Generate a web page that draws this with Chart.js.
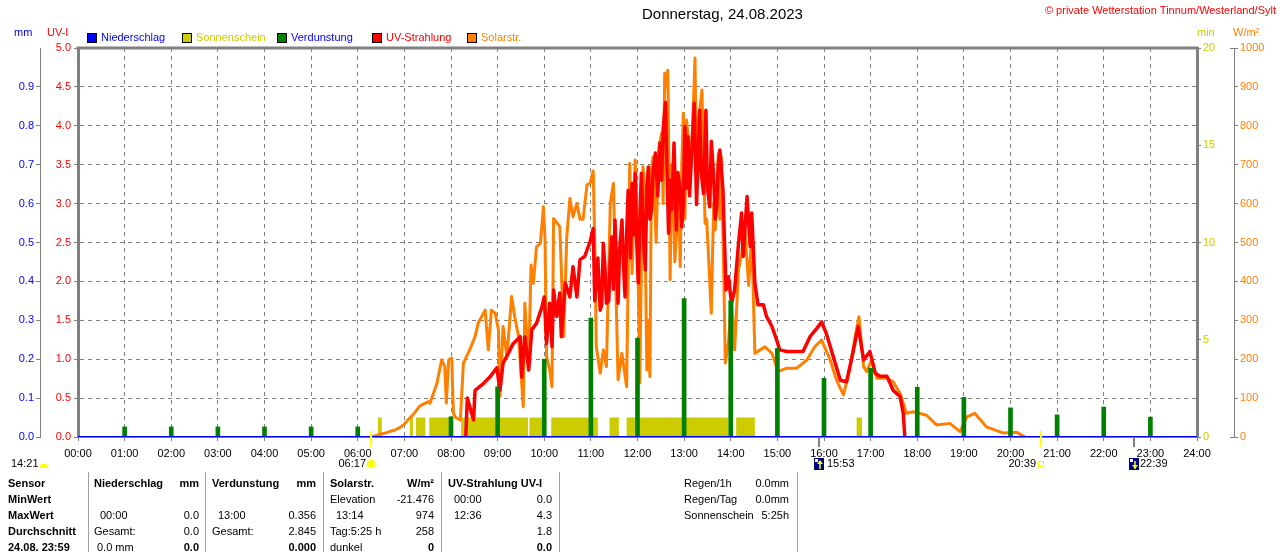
<!DOCTYPE html>
<html>
<head>
<meta charset="utf-8">
<title>Donnerstag, 24.08.2023</title>
<script src="https://cdn.jsdelivr.net/npm/chart.js@4.4.0/dist/chart.umd.min.js"></script>
<style>
  html, body { margin: 0; padding: 0; background: #fff; }
  canvas { display: block; }
</style>
</head>
<body>
<canvas id="wetterChart" width="1280" height="552"></canvas>
<script>
// Tageskurve Wetterstation, Zeitachse in Minuten nach Mitternacht

const hourLabels = ['00:00','01:00','02:00','03:00','04:00','05:00','06:00','07:00','08:00','09:00','10:00','11:00','12:00',
    '13:00','14:00','15:00','16:00','17:00','18:00','19:00','20:00','21:00','22:00','23:00','24:00'];
const mmTickLabels = ['0.0','0.1','0.2','0.3','0.4','0.5','0.6','0.7','0.8','0.9', null];
const uvTickLabels = ['0.0','0.5','1.0','1.5','2.0','2.5','3.0','3.5','4.0','4.5','5.0'];
const minTickLabels = ['0','5','10','15','20'];
const wmTickLabels = ['0','100','200','300','400','500','600','700','800','900','1000'];

// Niederschlag (mm)
const rainTimes = [0, 1440];
const rainValues = [0.0, 0.0];

// Sonnenschein (min), Abschnitte mit Sonne
const sunStart = [386, 427, 435, 452, 493, 581, 609, 684, 706, 847, 1002];
const sunEnd = [391, 431, 447, 478, 579, 597, 669, 696, 837, 871, 1009];
const sunMinutes = [1, 1, 1, 1, 1, 1, 1, 1, 1, 1, 1];

// Verdunstung (mm), stuendlich
const evapTimes = [60, 120, 180, 240, 300, 360, 480, 540, 600, 660, 720, 780, 840, 900, 960, 1020, 1080, 1140, 1200, 1260, 1320, 1380];
const evapValues = [0.026, 0.026, 0.026, 0.026, 0.026, 0.026, 0.052, 0.129, 0.200, 0.306, 0.254, 0.356, 0.350, 0.228,
    0.151, 0.177, 0.128, 0.102, 0.075, 0.057, 0.077, 0.051];

// UV-Strahlung (UV-I)
const uvTimes = [
    499, 501, 509, 511, 522, 530, 539, 543, 547, 554,
    560, 569, 571, 575, 580, 584, 590, 597, 600, 603,
    607, 610, 612, 616, 620, 622, 627, 633, 637, 642,
    646, 652, 659, 663, 665, 667, 669, 672, 674, 676,
    678, 680, 683, 685, 687, 689, 691, 695, 697, 700,
    702, 704, 706, 708, 711, 713, 715, 717, 719, 721,
    723, 725, 728, 730, 732, 734, 736, 738, 740, 743,
    746, 749, 751, 753, 756, 758, 760, 762, 764, 767,
    770, 772, 775, 777, 779, 781, 783, 785, 787, 790,
    793, 796, 798, 800, 802, 805, 808, 810, 813, 815,
    818, 820, 822, 824, 826, 830, 832, 834, 837, 841,
    845, 850, 854, 856, 861, 865, 867, 871, 875, 882,
    886, 893, 899, 903, 912, 933, 942, 951, 957, 963,
    972, 981, 989, 998, 1004, 1011, 1019, 1026, 1032, 1041,
    1049, 1058, 1062, 1064];
const uvValues = [
    0, 0.50, 0.22, 0.60, 0.69, 0.77, 0.89, 0.60, 0.95, 1.08,
    1.20, 1.29, 0.77, 1.29, 0.86, 1.38, 1.46, 1.67, 1.80, 1.20,
    1.72, 1.16, 1.89, 1.55, 1.85, 1.29, 1.98, 1.80, 2.19, 1.80,
    2.28, 2.32, 2.51, 2.68, 1.75, 1.98, 2.30, 1.63, 1.70, 2.49,
    2.20, 1.72, 1.75, 2.30, 2.57, 1.90, 2.79, 1.72, 2.40, 2.79,
    2.20, 1.80, 2.60, 3.17, 2.30, 3.26, 2.60, 3.39, 2.50, 1.98,
    2.80, 3.39, 2.50, 2.15, 3.20, 3.47, 2.80, 2.92, 3.40, 3.65,
    3.10, 3.78, 3.30, 3.95, 4.30, 3.40, 2.62, 3.30, 2.92, 3.78,
    2.66, 3.40, 3.17, 2.70, 3.00, 3.99, 3.20, 3.86, 3.10, 3.69,
    4.29, 2.99, 3.60, 4.20, 3.40, 3.13, 4.20, 3.20, 2.96, 3.80,
    3.35, 2.80, 2.96, 3.50, 3.69, 3.17, 2.50, 1.89, 2.06, 1.72,
    1.89, 2.49, 2.88, 2.32, 3.09, 2.45, 2.88, 1.98, 1.70, 1.70,
    1.55, 1.42, 1.25, 1.12, 1.10, 1.10, 1.29, 1.40, 1.48, 1.33,
    1.03, 0.73, 0.71, 1.12, 1.42, 0.99, 1.10, 0.82, 0.78, 0.78,
    0.60, 0.52, 0.30, 0];

// Solarstrahlung (W/m²)
const solarTimes = [
    378, 382, 389, 395, 401, 408, 414, 420, 425, 431,
    440, 451, 453, 462, 468, 472, 474, 477, 481, 483,
    486, 492, 496, 504, 511, 515, 524, 528, 532, 537,
    541, 543, 547, 552, 558, 562, 567, 573, 575, 580,
    583, 586, 590, 595, 599, 601, 603, 607, 610, 612,
    620, 625, 629, 633, 637, 642, 646, 650, 655, 659,
    663, 665, 667, 672, 676, 680, 685, 689, 692, 695,
    700, 706, 710, 713, 717, 719, 721, 723, 725, 727,
    729, 732, 734, 736, 738, 740, 744, 747, 749, 751,
    753, 755, 757, 759, 762, 764, 766, 768, 770, 773,
    775, 777, 779, 781, 783, 786, 788, 791, 794, 796,
    799, 803, 805, 807, 809, 811, 813, 815, 818, 820,
    824, 826, 828, 831, 833, 837, 841, 845, 850, 854,
    858, 863, 867, 871, 878, 884, 893, 901, 912, 925,
    938, 948, 957, 968, 976, 985, 993, 1000, 1005, 1011,
    1015, 1021, 1028, 1041, 1049, 1058, 1066, 1075, 1092, 1105,
    1122, 1135, 1144, 1154, 1169, 1191, 1208, 1219];
const solarValues = [
    0, 3, 7, 10, 14, 18, 24, 33, 45, 57,
    80, 91, 87, 139, 198, 181, 87, 198, 203, 62,
    50, 44, 190, 224, 258, 293, 326, 224, 326, 318,
    275, 104, 284, 206, 361, 309, 258, 78, 344, 190,
    442, 395, 489, 498, 592, 506, 206, 172, 129, 562,
    541, 258, 515, 613, 566, 601, 560, 560, 648, 652,
    684, 499, 232, 164, 224, 181, 601, 652, 396, 147,
    215, 129, 703, 420, 712, 600, 395, 139, 450, 695,
    650, 172, 300, 155, 690, 720, 500, 738, 760, 781,
    600, 935, 900, 943, 404, 700, 626, 450, 515, 620,
    438, 700, 832, 560, 815, 760, 669, 800, 974, 652,
    820, 892, 700, 549, 560, 481, 400, 318, 600, 532,
    729, 560, 720, 420, 190, 241, 360, 224, 430, 470,
    540, 390, 520, 215, 224, 232, 215, 168, 177, 177,
    198, 232, 249, 198, 147, 108, 172, 258, 309, 181,
    168, 198, 151, 151, 142, 112, 61, 65, 56, 31,
    35, 14, 52, 61, 26, 10, 12, 0];

// Sonne / Mond
const sunriseTime = 377;   // 06:17
const sunsetTime = 1239;   // 20:39
const moonriseTime = 953;  // 15:53
const moonsetTime = 1359;  // 22:39

const FONT = '"Liberation Sans", Arial, sans-serif';
const GRID = '#808080';

function toPoints(xs, ys) {
    return xs.map((x, i) => ({ x: x, y: ys[i] }));
}

const sunshinePoints = [];
sunStart.forEach(function(s, i) {
    sunshinePoints.push({ x: s, y: 0 }, { x: s, y: sunMinutes[i] }, { x: sunEnd[i], y: sunMinutes[i] }, { x: sunEnd[i], y: 0 });
});

function text(ctx, str, x, y, opts) {
    opts = opts || {};
    ctx.font = (opts.bold ? 'bold ' : '') + (opts.size || 11) + 'px ' + FONT;
    ctx.fillStyle = opts.color || '#000';
    ctx.textAlign = opts.align || 'left';
    ctx.textBaseline = 'middle';
    ctx.fillText(str, x, y);
}

function moonIcon(ctx, x, y, up) {
    ctx.fillStyle = '#000080';
    ctx.fillRect(x, y, 10, 12);
    ctx.fillStyle = '#ffffff';
    ctx.fillRect(x + 1, y + 1, 3, 3);
    ctx.strokeStyle = '#ffff00';
    ctx.fillStyle = '#ffff00';
    ctx.lineWidth = 1.5;
    ctx.beginPath();
    ctx.moveTo(x + 6, y + 3);
    ctx.lineTo(x + 6, y + 11);
    ctx.stroke();
    ctx.beginPath();
    if (up) {
        ctx.moveTo(x + 3, y + 6); ctx.lineTo(x + 6, y + 2); ctx.lineTo(x + 9, y + 6);
    } else {
        ctx.moveTo(x + 3, y + 7); ctx.lineTo(x + 6, y + 11); ctx.lineTo(x + 9, y + 7);
    }
    ctx.closePath();
    ctx.fill();
}

const extrasPlugin = {
    id: 'extras',
    afterDraw(chart) {
        const ctx = chart.ctx;
        const area = chart.chartArea;
        const xs = chart.scales.x;
        ctx.save();

        // oberer Rahmen
        ctx.strokeStyle = GRID;
        ctx.lineWidth = 3;
        ctx.beginPath();
        ctx.moveTo(area.left - 1.5, area.top);
        ctx.lineTo(area.right + 1.5, area.top);
        ctx.stroke();

        // Kappen der W/m² Achse
        const wm = chart.scales.wm;
        ctx.lineWidth = 1;
        ctx.beginPath();
        ctx.moveTo(wm.left - 4, area.top + 0.5); ctx.lineTo(wm.left + 4, area.top + 0.5);
        ctx.moveTo(wm.left - 4, area.bottom + 0.5); ctx.lineTo(wm.left + 4, area.bottom + 0.5);
        ctx.stroke();

        // Titel und Copyright
        text(ctx, 'Donnerstag, 24.08.2023', 642, 15, { size: 15 });
        text(ctx, '© private Wetterstation Tinnum/Westerland/Sylt', 1276, 11, { color: '#ff0000', align: 'right' });

        // Legende
        const legend = [
            { box: '#0000ff', label: 'Niederschlag', color: '#0000ff' },
            { box: '#cccc00', label: 'Sonnenschein', color: '#cccc00' },
            { box: '#008000', label: 'Verdunstung', color: '#0000ff' },
            { box: '#ff0000', label: 'UV-Strahlung', color: '#ff0000' },
            { box: '#ff8000', label: 'Solarstr.', color: '#ff8000' }
        ];
        legend.forEach(function(item, i) {
            const lx = 87 + i * 95;
            ctx.fillStyle = item.box;
            ctx.fillRect(lx, 33, 10, 10);
            ctx.strokeStyle = '#000';
            ctx.lineWidth = 1;
            ctx.strokeRect(lx + 0.5, 33.5, 9, 9);
            text(ctx, item.label, lx + 14, 38, { color: item.color });
        });

        // Achsentitel
        text(ctx, 'mm', 14, 33, { color: '#0000ff' });
        text(ctx, 'UV-I', 47, 33, { color: '#ff0000' });
        text(ctx, 'min', 1197, 33, { color: '#cccc00' });
        text(ctx, 'W/m²', 1233, 33, { color: '#ff8000' });

        // Sonnen- und Mondzeiten auf der Zeitachse
        ctx.lineWidth = 2;
        ctx.strokeStyle = '#ffff00';
        [sunriseTime, sunsetTime].forEach(function(t) {
            const px = Math.round(xs.getPixelForValue(t));
            ctx.beginPath();
            ctx.moveTo(px, area.bottom - 6);
            ctx.lineTo(px, area.bottom + 10);
            ctx.stroke();
        });
        ctx.strokeStyle = GRID;
        [moonriseTime, moonsetTime].forEach(function(t) {
            const px = Math.round(xs.getPixelForValue(t));
            ctx.beginPath();
            ctx.moveTo(px, area.bottom);
            ctx.lineTo(px, area.bottom + 10);
            ctx.stroke();
        });

        const rowY = 464;
        text(ctx, '14:21', 11, rowY);
        ctx.fillStyle = '#ffff00';
        ctx.beginPath();
        ctx.arc(44, 468, 4.5, Math.PI, 2 * Math.PI);
        ctx.closePath();
        ctx.fill();

        const sx = Math.round(xs.getPixelForValue(sunriseTime));
        text(ctx, '06:17', sx - 5, rowY, { align: 'right' });
        ctx.strokeStyle = '#ffff99';
        ctx.lineWidth = 1;
        for (let k = 0; k < 8; k++) {
            const a = k * Math.PI / 4;
            ctx.beginPath();
            ctx.moveTo(sx + Math.cos(a) * 4, rowY + Math.sin(a) * 4);
            ctx.lineTo(sx + Math.cos(a) * 6.5, rowY + Math.sin(a) * 6.5);
            ctx.stroke();
        }
        ctx.fillStyle = '#ffff00';
        ctx.beginPath();
        ctx.arc(sx, rowY, 4, 0, 2 * Math.PI);
        ctx.fill();

        const mrx = Math.round(xs.getPixelForValue(moonriseTime));
        moonIcon(ctx, mrx - 5, 458, true);
        text(ctx, '15:53', mrx + 8, rowY);

        const ssx = Math.round(xs.getPixelForValue(sunsetTime));
        text(ctx, '20:39', ssx - 5, rowY, { align: 'right' });
        ctx.strokeStyle = '#ffff00';
        ctx.lineWidth = 1;
        ctx.strokeRect(ssx - 2.5, rowY - 2.5, 5, 5);

        const msx = Math.round(xs.getPixelForValue(moonsetTime));
        moonIcon(ctx, msx - 5, 458, false);
        text(ctx, '22:39', msx + 6, rowY);

        // Tabelle
        ctx.strokeStyle = '#a0a0a0';
        ctx.lineWidth = 1;
        [88, 205, 323, 441, 559, 797].forEach(function(lx) {
            ctx.beginPath();
            ctx.moveTo(lx + 0.5, 472);
            ctx.lineTo(lx + 0.5, 552);
            ctx.stroke();
        });
        const ry = [484, 500, 516, 532, 548];
        ['Sensor', 'MinWert', 'MaxWert', 'Durchschnitt', '24.08. 23:59'].forEach(function(s, i) {
            text(ctx, s, 8, ry[i], { bold: true });
        });

        text(ctx, 'Niederschlag', 94, ry[0], { bold: true });
        text(ctx, 'mm', 199, ry[0], { bold: true, align: 'right' });
        text(ctx, '00:00', 100, ry[2]);
        text(ctx, '0.0', 199, ry[2], { align: 'right' });
        text(ctx, 'Gesamt:', 94, ry[3]);
        text(ctx, '0.0', 199, ry[3], { align: 'right' });
        text(ctx, '0.0 mm', 97, ry[4]);
        text(ctx, '0.0', 199, ry[4], { bold: true, align: 'right' });

        text(ctx, 'Verdunstung', 212, ry[0], { bold: true });
        text(ctx, 'mm', 316, ry[0], { bold: true, align: 'right' });
        text(ctx, '13:00', 218, ry[2]);
        text(ctx, '0.356', 316, ry[2], { align: 'right' });
        text(ctx, 'Gesamt:', 212, ry[3]);
        text(ctx, '2.845', 316, ry[3], { align: 'right' });
        text(ctx, '0.000', 316, ry[4], { bold: true, align: 'right' });

        text(ctx, 'Solarstr.', 330, ry[0], { bold: true });
        text(ctx, 'W/m²', 434, ry[0], { bold: true, align: 'right' });
        text(ctx, 'Elevation', 330, ry[1]);
        text(ctx, '-21.476', 434, ry[1], { align: 'right' });
        text(ctx, '13:14', 336, ry[2]);
        text(ctx, '974', 434, ry[2], { align: 'right' });
        text(ctx, 'Tag:5:25 h', 330, ry[3]);
        text(ctx, '258', 434, ry[3], { align: 'right' });
        text(ctx, 'dunkel', 330, ry[4]);
        text(ctx, '0', 434, ry[4], { bold: true, align: 'right' });

        text(ctx, 'UV-Strahlung UV-I', 448, ry[0], { bold: true });
        text(ctx, '00:00', 454, ry[1]);
        text(ctx, '0.0', 552, ry[1], { align: 'right' });
        text(ctx, '12:36', 454, ry[2]);
        text(ctx, '4.3', 552, ry[2], { align: 'right' });
        text(ctx, '1.8', 552, ry[3], { align: 'right' });
        text(ctx, '0.0', 552, ry[4], { bold: true, align: 'right' });

        text(ctx, 'Regen/1h', 684, ry[0]);
        text(ctx, '0.0mm', 789, ry[0], { align: 'right' });
        text(ctx, 'Regen/Tag', 684, ry[1]);
        text(ctx, '0.0mm', 789, ry[1], { align: 'right' });
        text(ctx, 'Sonnenschein', 684, ry[2]);
        text(ctx, '5:25h', 789, ry[2], { align: 'right' });

        ctx.restore();
    }
};

const tickFont = { family: FONT, size: 11 };

new Chart(document.getElementById('wetterChart'), {
    type: 'line',
    data: {
        datasets: [
            {
                label: 'Niederschlag',
                data: toPoints(rainTimes, rainValues),
                yAxisID: 'mm',
                borderColor: '#0000ff',
                borderWidth: 2,
                pointRadius: 0,
                order: 1
            },
            {
                type: 'bar',
                label: 'Verdunstung',
                data: toPoints(evapTimes, evapValues),
                yAxisID: 'mm',
                backgroundColor: '#008000',
                borderWidth: 0,
                barThickness: 4,
                order: 2
            },
            {
                label: 'UV-Strahlung',
                data: toPoints(uvTimes, uvValues),
                yAxisID: 'uv',
                borderColor: '#ff0000',
                borderWidth: 3.5,
                borderJoinStyle: 'round',
                pointRadius: 0,
                tension: 0,
                order: 3
            },
            {
                label: 'Solarstr.',
                data: toPoints(solarTimes, solarValues),
                yAxisID: 'wm',
                borderColor: '#ff8000',
                borderWidth: 3,
                borderJoinStyle: 'round',
                pointRadius: 0,
                tension: 0,
                order: 4
            },
            {
                label: 'Sonnenschein',
                data: sunshinePoints,
                yAxisID: 'min',
                borderWidth: 0,
                borderColor: 'rgba(0,0,0,0)',
                backgroundColor: '#cccc00',
                fill: 'origin',
                pointRadius: 0,
                tension: 0,
                order: 5
            }
        ]
    },
    options: {
        responsive: false,
        animation: false,
        devicePixelRatio: 1,
        events: [],
        layout: { padding: { top: 48, left: 0, right: 0, bottom: 0 } },
        plugins: {
            legend: { display: false },
            tooltip: { enabled: false },
            title: { display: false }
        },
        scales: {
            x: {
                type: 'linear',
                position: 'bottom',
                min: 0,
                max: 1440,
                offset: false,
                afterFit: function(scale) { scale.height = 115; },
                grid: { color: GRID, lineWidth: 1, tickLength: 4, tickColor: GRID, offset: false },
                border: { display: true, color: GRID, width: 1, dash: [4, 4] },
                ticks: {
                    stepSize: 60,
                    autoSkip: false,
                    maxRotation: 0,
                    minRotation: 0,
                    padding: 6,
                    color: '#000',
                    font: tickFont,
                    callback: function(v) { return hourLabels[Math.round(v / 60)]; }
                }
            },
            mm: {
                type: 'linear',
                position: 'left',
                weight: 1,
                min: 0,
                max: 1,
                afterFit: function(scale) { scale.width = 40; },
                grid: { drawOnChartArea: false, tickLength: 4, tickColor: GRID },
                border: { display: true, color: GRID, width: 1 },
                ticks: {
                    stepSize: 0.1,
                    padding: 2,
                    color: '#0000ff',
                    font: tickFont,
                    callback: function(v, i) { return mmTickLabels[i]; }
                }
            },
            uv: {
                type: 'linear',
                position: 'left',
                weight: 0,
                min: 0,
                max: 5,
                afterFit: function(scale) { scale.width = 38; },
                grid: { color: GRID, lineWidth: 1, tickLength: 4, tickColor: GRID },
                border: { display: true, color: GRID, width: 3, dash: [4, 4] },
                ticks: {
                    stepSize: 0.5,
                    padding: 3,
                    color: '#ff0000',
                    font: tickFont,
                    callback: function(v, i) { return uvTickLabels[i]; }
                }
            },
            min: {
                type: 'linear',
                position: 'right',
                weight: 0,
                min: 0,
                max: 20,
                afterFit: function(scale) { scale.width = 37; },
                grid: { drawOnChartArea: false, tickLength: 4, tickColor: GRID },
                border: { display: true, color: GRID, width: 3 },
                ticks: {
                    stepSize: 5,
                    padding: 2,
                    color: '#cccc00',
                    font: tickFont,
                    callback: function(v, i) { return minTickLabels[i]; }
                }
            },
            wm: {
                type: 'linear',
                position: 'right',
                weight: 1,
                min: 0,
                max: 1000,
                afterFit: function(scale) { scale.width = 46; },
                grid: { drawOnChartArea: false, tickLength: 4, tickColor: GRID },
                border: { display: true, color: GRID, width: 1 },
                ticks: {
                    stepSize: 100,
                    padding: 2,
                    color: '#ff8000',
                    font: tickFont,
                    callback: function(v, i) { return wmTickLabels[i]; }
                }
            }
        }
    },
    plugins: [extrasPlugin]
});
</script>
</body>
</html>
